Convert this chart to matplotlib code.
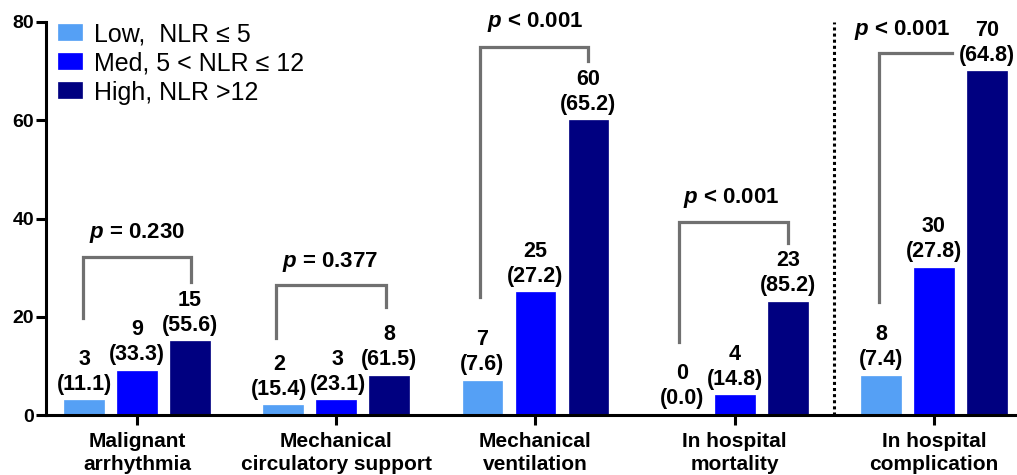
import matplotlib
matplotlib.use("Agg")
import matplotlib.pyplot as plt
import numpy as np

plt.rcParams['font.family'] = ['Liberation Sans', 'DejaVu Sans']
plt.rcParams['mathtext.fontset'] = 'custom'
plt.rcParams['mathtext.bfit'] = 'Liberation Sans:italic:bold'
plt.rcParams['mathtext.it'] = 'Liberation Sans:italic:bold'
plt.rcParams['mathtext.rm'] = 'Liberation Sans:bold'

categories = ["Malignant\narrhythmia", "Mechanical\ncirculatory support",
              "Mechanical\nventilation", "In hospital\nmortality",
              "In hospital\ncomplication"]
series_names = ["Low,  NLR \u2264 5", "Med, 5 < NLR \u2264 12", "High, NLR >12"]
low_counts = [3, 2, 7, 0, 8]
low_pct = [11.1, 15.4, 7.6, 0.0, 7.4]
med_counts = [9, 3, 25, 4, 30]
med_pct = [33.3, 23.1, 27.2, 14.8, 27.8]
high_counts = [15, 8, 60, 23, 70]
high_pct = [55.6, 61.5, 65.2, 85.2, 64.8]
p_labels = ["= 0.230", "= 0.377", "< 0.001", "< 0.001", "< 0.001"]

colors = ["#55A0F5", "#0000FF", "#000080"]

fig = plt.figure(figsize=(10.17, 4.75), dpi=100)
ax = fig.add_axes([46/1017, 60/475, 971/1017, 393/475])

x = np.arange(len(categories))
off = 0.266
w = 0.2
all_counts = [low_counts, med_counts, high_counts]
all_pct = [low_pct, med_pct, high_pct]
for i, (cnt, pct) in enumerate(zip(all_counts, all_pct)):
    xs = x + (i - 1) * off
    ax.bar(xs, cnt, width=w, color=colors[i], edgecolor=colors[i], linewidth=0.5,
           label=series_names[i], zorder=2)
    for k, (xi, c, p) in enumerate(zip(xs, cnt, pct)):
        dx = -3 if (k == 1 and i == 0) else (1 if (k == 1 and i == 1) else 0)
        ax.annotate(f"{c}\n({p:.1f})", (xi, c), xytext=(dx, 4), textcoords="offset points",
                    ha="center", va="bottom", fontsize=15.5, fontweight="bold",
                    linespacing=1.25, zorder=4)

# brackets: (left x offset, right x offset, top, left bottom, right bottom)
brackets = [
    (-0.27, 0.27, 32.2, 19.8, 27.1),
    (-0.30, 0.25, 26.5, 15.7, 22.0),
    (-0.276, 0.265, 75.0, 24.0, 72.0),
    (-0.28, 0.266, 39.3, 14.9, 35.0),
]
gray = "#707070"
for k, (l, r, t, lb, rb) in enumerate(brackets):
    ax.plot([x[k] + l, x[k] + l, x[k] + r, x[k] + r], [lb, t, t, rb],
            color=gray, lw=2.3, solid_joinstyle="miter", clip_on=False, zorder=3)
# last bracket (right end hidden by label)
ax.plot([x[4] - 0.276, x[4] - 0.276, x[4] + 0.09], [23.0, 73.7, 73.7],
        color=gray, lw=2.3, solid_joinstyle="miter", clip_on=False, zorder=3)

p_pos = [(0.0, 37.0), (-0.03, 31.2), (0.0, 80.0), (-0.015, 44.2), (-0.16, 78.4)]
for k, (dx, yy) in enumerate(p_pos):
    ax.text(x[k] + dx, yy, r"$\mathbfit{p}$ " + p_labels[k], ha="center", va="center",
            fontsize=16, fontweight="bold", clip_on=False, zorder=5)

ax.plot([3.5, 3.5], [0, 80], color="black", lw=2.2, linestyle=(0, (1, 1)), zorder=1,
        clip_on=False)

ax.set_xlim(-0.457, 4.417)
ax.set_ylim(0, 80)
ax.set_yticks([0, 20, 40, 60, 80])
ax.set_xticks(x)
ax.set_xticklabels(categories, fontsize=15, fontweight="bold", linespacing=1.3)
for lab in ax.get_yticklabels():
    lab.set_fontweight("bold")
    lab.set_fontsize(14)
ax.tick_params(axis="both", width=2.2, length=7, direction="out")
ax.tick_params(axis="x", pad=5)
ax.tick_params(axis="y", pad=1.5)
for s in ["top", "right"]:
    ax.spines[s].set_visible(False)
for s in ["left", "bottom"]:
    ax.spines[s].set_linewidth(2.2)

leg = ax.legend(loc="upper left", bbox_to_anchor=(0.012, 0.998), frameon=False,
                fontsize=18, handlelength=0.96, handleheight=0.45, handletextpad=0.5,
                labelspacing=0.2, borderpad=0, borderaxespad=0)
for h in leg.legend_handles:
    h.set_height(11)

fig.savefig("out.png", dpi=100)
